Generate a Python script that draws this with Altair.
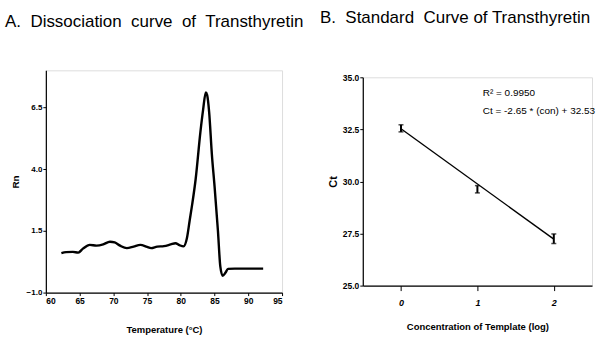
import altair as alt
import pandas as pd

# ---------- Panel A: dissociation curve ----------
temp = [62.3, 63.0, 64.0, 64.8, 65.5, 66.5, 67.5, 68.5, 69.5, 70.2, 71.0, 72.0,
        73.0, 74.0, 75.0, 75.6, 76.5, 77.5, 78.5, 79.2, 79.8, 80.4, 80.9, 81.3,
        81.7, 82.2, 82.9, 83.3, 83.7, 83.9, 84.2, 84.6, 85.0, 85.5, 85.85, 86.2,
        86.6, 87.0, 88.0, 90.0, 92.2]
rn = [0.60, 0.64, 0.65, 0.62, 0.78, 0.93, 0.90, 0.95, 1.06, 1.03, 0.90, 0.80,
      0.86, 0.93, 0.85, 0.80, 0.86, 0.88, 0.95, 1.00, 0.92, 0.87, 1.20, 1.90,
      2.60, 3.60, 5.50, 6.40, 7.10, 7.00, 6.30, 4.60, 3.30, 1.50, 0.06, -0.32,
      -0.20, -0.04, -0.03, -0.03, -0.03]
x_ticks_a = [60, 65, 70, 75, 80, 85, 90, 95]
y_ticks_a = [-1.0, 1.5, 4.0, 6.5]

# ---------- Panel B: standard curve ----------
conc = [0, 1, 2]
ct_lo = [32.38, 29.45, 27.02]
ct_hi = [32.72, 29.80, 27.48]
fit_x = [0, 2]
fit_y = [32.53, 27.23]
x_ticks_b = [0, 1, 2]
y_ticks_b = [25.0, 27.5, 30.0, 32.5, 35.0]
ann_text = ["R\u00b2 = 0.9950", "Ct = -2.65 * (con) + 32.53"]
ann_x = [1.07, 1.07]
ann_y = [34.25, 33.37]

FONT = "Liberation Sans, Arial, sans-serif"

df_a = pd.DataFrame({"temp": temp, "rn": rn})
df_err = pd.DataFrame({"conc": conc, "lo": ct_lo, "hi": ct_hi})
df_fit = pd.DataFrame({"conc": fit_x, "ct": fit_y})
df_ann = pd.DataFrame({"conc": ann_x, "ct": ann_y, "txt": ann_text})

axis_common = dict(grid=False, domainColor="black", tickColor="black",
                   labelColor="black", titleColor="black", labelFont=FONT,
                   titleFont=FONT, labelFontWeight="bold", titleFontWeight="bold",
                   domainWidth=1.2, tickWidth=1)

left = alt.Chart(df_a).mark_line(color="black", strokeWidth=2.4, interpolate="monotone").encode(
    x=alt.X("temp:Q",
            scale=alt.Scale(domain=[60, 95], nice=False, zero=False),
            axis=alt.Axis(values=x_ticks_a, format="d", title="Temperature (\u00b0C)",
                          tickSize=3, labelPadding=1, labelFontSize=8.5, titleFontSize=9.5,
                          titlePadding=20, **axis_common)),
    y=alt.Y("rn:Q",
            scale=alt.Scale(domain=[-1, 8], nice=False, zero=False),
            axis=alt.Axis(values=y_ticks_a, format=".1f", title="Rn",
                          tickSize=3, labelPadding=1, labelFontSize=8, titleFontSize=10,
                          titlePadding=6, **axis_common)),
).properties(
    width=237, height=223,
    title=alt.TitleParams("A.\u00a0 Dissociation\u00a0 curve\u00a0 of\u00a0 Transthyretin",
                          anchor="start", frame="group", dx=-41, offset=39,
                          fontSize=17, font=FONT, fontWeight="normal", color="black"),
)

xb = alt.X("conc:Q", scale=alt.Scale(domain=[-0.5, 2.5], nice=False, zero=False),
           axis=alt.Axis(values=x_ticks_b, format="d", title="Concentration of Template (log)",
                         tickSize=5, labelPadding=8, labelFontSize=9, labelFontStyle="italic",
                         titleFontSize=9.5, titlePadding=14, **axis_common))
yscale_b = alt.Scale(domain=[25, 35], nice=False, zero=False)
yaxis_b = alt.Axis(values=y_ticks_b, format=".1f", title="Ct", tickSize=3, labelPadding=1,
                   labelFontSize=8.5, titleFontSize=11, titlePadding=4, **axis_common)

fit = alt.Chart(df_fit).mark_line(color="black", strokeWidth=1.4).encode(
    x=xb, y=alt.Y("ct:Q", scale=yscale_b, axis=yaxis_b))
err = alt.Chart(df_err).mark_rule(color="black", strokeWidth=2).encode(
    x="conc:Q", y="lo:Q", y2="hi:Q")
cap_lo = alt.Chart(df_err).mark_tick(color="black", orient="horizontal", size=5, thickness=1.5).encode(
    x="conc:Q", y="lo:Q")
cap_hi = alt.Chart(df_err).mark_tick(color="black", orient="horizontal", size=5, thickness=1.5).encode(
    x="conc:Q", y="hi:Q")
ann = alt.Chart(df_ann).mark_text(align="left", baseline="middle", font=FONT, fontSize=10,
                                  color="black").encode(x="conc:Q", y="ct:Q", text="txt:N")

right = alt.layer(fit, err, cap_lo, cap_hi, ann).properties(
    width=230, height=209,
    title=alt.TitleParams("B.\u00a0 Standard\u00a0 Curve of Transthyretin",
                          anchor="start", frame="group", dx=-43, offset=46,
                          fontSize=17, font=FONT, fontWeight="normal", color="black"),
)

chart = alt.hconcat(left, right, spacing=81, bounds="flush", center=True).properties(
    padding={"left": 4, "top": 8, "right": 0, "bottom": 0}
).configure_view(strokeWidth=0).configure(background="white")

chart.save("out.html", embed_options={"renderer": "svg", "actions": False})
